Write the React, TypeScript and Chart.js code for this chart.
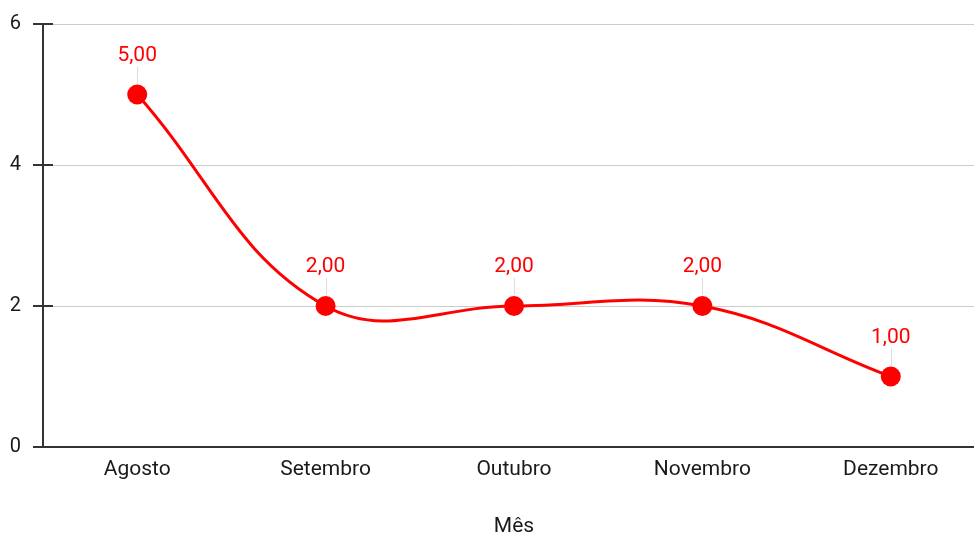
import React, { useEffect, useRef } from "react";
import { Chart, registerables } from "chart.js";

Chart.register(...registerables);

const categories = ["Agosto", "Setembro", "Outubro", "Novembro", "Dezembro"];
const values = [5, 2, 2, 2, 1];
const yTicks = [0, 2, 4, 6];
const xTitle = "Mês";

const FONT = "Roboto, 'Noto Sans', sans-serif";

const fmt = (v: number) => v.toFixed(2).replace(".", ",");

const tickMarkPlugin = {
  id: "tickMarks",
  afterDraw(chart: any) {
    const { ctx, chartArea } = chart;
    const y = chart.scales.y;
    ctx.save();
    ctx.strokeStyle = "#333";
    ctx.lineWidth = 2;
    y.ticks.forEach((t: any) => {
      const py = Math.round(y.getPixelForValue(t.value));
      ctx.beginPath();
      ctx.moveTo(chartArea.left - 10, py);
      ctx.lineTo(chartArea.left + 10, py);
      ctx.stroke();
    });
    ctx.restore();
  },
};

const labelPlugin = {
  id: "pointLabels",
  afterDatasetsDraw(chart: any) {
    const { ctx } = chart;
    const meta = chart.getDatasetMeta(0);
    ctx.save();
    meta.data.forEach((pt: any, i: number) => {
      const x = pt.x;
      const y = pt.y;
      ctx.strokeStyle = "#dddddd";
      ctx.lineWidth = 1;
      ctx.beginPath();
      ctx.moveTo(Math.round(x) + 0.5, y - 11);
      ctx.lineTo(Math.round(x) + 0.5, y - 28);
      ctx.stroke();
      ctx.fillStyle = "#ff0000";
      ctx.font = `21px ${FONT}`;
      ctx.textAlign = "center";
      ctx.textBaseline = "middle";
      ctx.fillText(fmt(values[i]), x, y - 39);
    });
    ctx.restore();
  },
};

export default function App() {
  const ref = useRef<HTMLCanvasElement>(null);
  useEffect(() => {
    if (!ref.current) return;
    const chart = new Chart(ref.current, {
      type: "line",
      data: {
        labels: categories,
        datasets: [
          {
            data: values,
            borderColor: "#ff0000",
            backgroundColor: "#ff0000",
            borderWidth: 3,
            pointRadius: 10,
            pointHoverRadius: 10,
            pointBorderWidth: 0,
            pointBackgroundColor: "#ff0000",
            tension: 0.4,
            fill: false,
          },
        ],
      },
      options: {
        responsive: false,
        animation: false,
        layout: { padding: { top: 22, right: 6, left: 0, bottom: 0 } },
        plugins: {
          legend: { display: false },
          tooltip: { enabled: false },
        },
        scales: {
          x: {
            offset: true,
            grid: { display: false, drawTicks: false },
            border: { display: true, color: "#333", width: 2 },
            ticks: {
              color: "#1a1a1a",
              font: { family: FONT, size: 21 },
              padding: 10,
              maxRotation: 0,
            },
            title: {
              display: true,
              text: xTitle,
              color: "#1a1a1a",
              font: { family: FONT, size: 21 },
              padding: { top: 0, bottom: 0 },
            },
            afterFit(scale: any) {
              scale.height = 92;
            },
          },
          y: {
            min: 0,
            max: 6,
            afterBuildTicks(scale: any) {
              scale.ticks = yTicks.map((v) => ({ value: v }));
            },
            grid: {
              color: "#cccccc",
              lineWidth: 1,
              drawTicks: true,
              tickLength: 10,
              tickColor: "#333",
            },
            border: { display: true, color: "#333", width: 2 },
            ticks: {
              color: "#1a1a1a",
              font: { family: FONT, size: 20 },
              padding: 12,
            },
            afterFit(scale: any) {
              scale.width = 43;
            },
          },
        },
      },
      plugins: [tickMarkPlugin, labelPlugin],
    });
    return () => chart.destroy();
  }, []);
  return (
    <div
      style={{
        position: "fixed",
        left: 0,
        top: 0,
        width: 974,
        height: 535,
        overflow: "hidden",
        background: "#fff",
      }}
    >
      <canvas ref={ref} width={995} height={539} style={{ display: "block" }} />
    </div>
  );
}
